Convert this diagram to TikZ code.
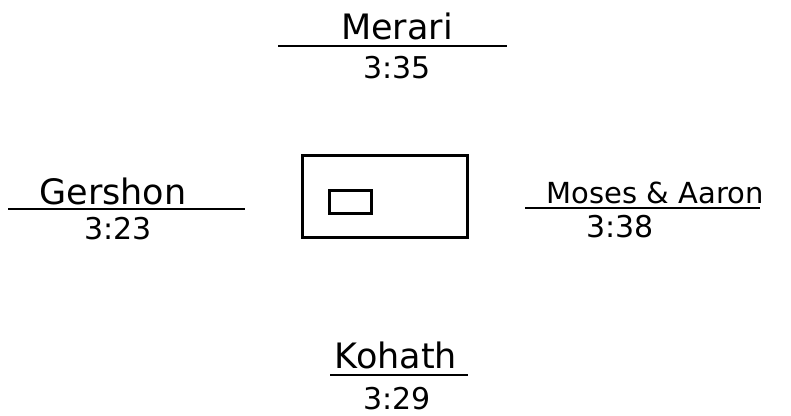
\documentclass[tikz,border=0pt]{standalone}
\usepackage{fontspec}
\setmainfont{DejaVu Sans}
\begin{document}
\begin{tikzpicture}[x=1pt,y=-1pt,
  lbl/.style={anchor=base,inner sep=0pt,font=\fontsize{35}{36}\selectfont},
  num/.style={anchor=base,inner sep=0pt,font=\fontsize{30}{32}\selectfont},
  rule/.style={line width=2.2pt},
  box/.style={draw,line width=3pt}]
\useasboundingbox (0,0) rectangle (791,415);
% Merari
\node[lbl] (merari) at (397,39) {Merari};
\coordinate (m1) at (278,46); \coordinate (m2) at (507,46);
\draw[rule] (m1) -- (m2);
\node[num] (n335) at (397,78) {3:35};
% Gershon
\node[lbl] (gershon) at (113,204) {Gershon};
\coordinate (g1) at (8,209); \coordinate (g2) at (245,209);
\draw[rule] (g1) -- (g2);
\node[num] (n323) at (118,239) {3:23};
% Moses & Aaron
\node[lbl,font=\fontsize{29}{30}\selectfont] (moses) at (655,203) {Moses \& Aaron};
\coordinate (a1) at (525,208); \coordinate (a2) at (760,208);
\draw[rule] (a1) -- (a2);
\node[num] (n338) at (620,237) {3:38};
% Kohath
\node[lbl] (kohath) at (396,368) {Kohath};
\coordinate (k1) at (330,375); \coordinate (k2) at (468,375);
\draw[rule] (k1) -- (k2);
\node[num] (n329) at (397,409) {3:29};
% Tabernacle
\coordinate (o1) at (302,155); \coordinate (o2) at (467,237);
\draw[box] (o1) rectangle (o2);
\coordinate (i1) at (329,190); \coordinate (i2) at (371,213);
\draw[box] (i1) rectangle (i2);
\end{tikzpicture}
\end{document}
